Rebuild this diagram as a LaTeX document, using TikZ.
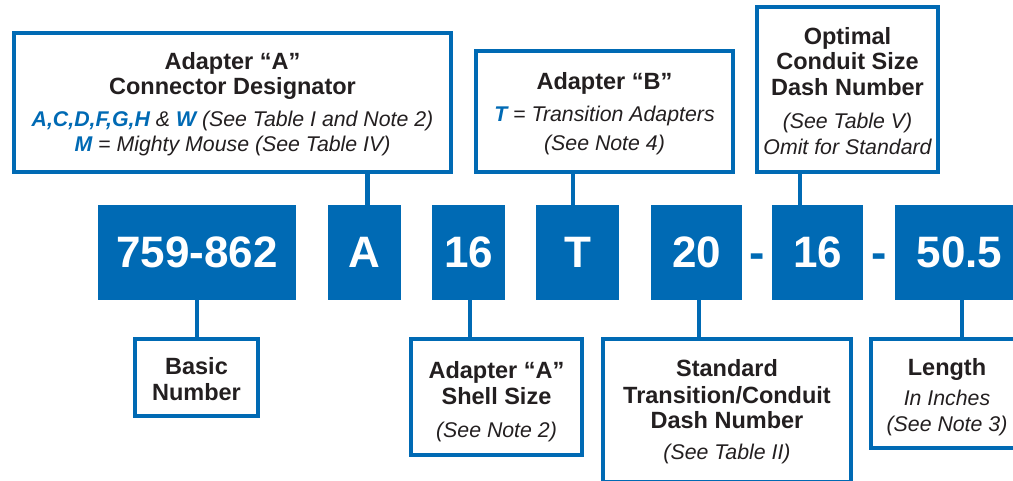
\documentclass[tikz,border=0pt]{standalone}
\usepackage{fontspec}
\setmainfont{Liberation Sans}
\usepackage{tikz}
\definecolor{pnblue}{RGB}{0,106,180}
\definecolor{pntext}{RGB}{35,31,32}
\newcommand{\ntfont}{\fontsize{21.3}{25.5}\selectfont\mdseries\itshape}
\newcommand{\pnkey}[1]{{\color{pnblue}\bfseries #1}}
\newcommand{\lift}[1]{\rule{0pt}{\dimexpr 17pt+#1pt\relax}}
\tikzstyle{code_box} = [fill=pnblue, text=white, inner sep=0pt, minimum height=95pt, font=\fontsize{44}{44}\selectfont\bfseries]
\tikzstyle{info_box} = [draw=pnblue, line width=4pt, fill=white, text=pntext, align=center, inner sep=0pt, font=\fontsize{23.5}{25.5}\selectfont\bfseries]
\tikzstyle{dash_mark} = [text=pnblue, inner sep=0pt, anchor=base, font=\fontsize{46}{46}\selectfont\bfseries]
\tikzstyle{link_line} = [draw=pnblue, line width=4.5pt]

\begin{document}
\begin{tikzpicture}[x=1pt,y=-1pt]
		\useasboundingbox (0,0) rectangle (1013,480);
		\clip (0,0) rectangle (1013,480);
		% part number row
		\node (num) at (197,252.5) [code_box, minimum width=198pt] {759-862};
		\node (desig) at (364.5,252.5) [code_box, minimum width=73pt] {A};
		\node (size) at (468.5,252.5) [code_box, minimum width=73pt] {16};
		\node (adB) at (577.5,252.5) [code_box, minimum width=83pt] {T};
		\node (std) at (696.5,252.5) [code_box, minimum width=91pt] {20};
		\node (dashA) at (757,268.7) [dash_mark] {-};
		\node (opt) at (817.5,252.5) [code_box, minimum width=91pt] {16};
		\node (dashB) at (879,268.7) [dash_mark] {-};
		\node (len) at (959.5,252.5) [code_box, minimum width=129pt] {50.5};
		
		% upper legends
		\node (desigInfo) at (232.5,102.4) [info_box, minimum width=437pt, minimum height=139pt] {\lift{4}Adapter “A”\\ Connector Designator\\[6.5pt] {\ntfont\pnkey{A,C,D,F,G,H} \& \pnkey{W} (See Table I and Note 2)}\\[-0.5pt] {\ntfont\pnkey{M} = Mighty Mouse (See Table IV)}};
		\node (adBInfo) at (604.5,111.5) [info_box, minimum width=257pt, minimum height=121pt] {\lift{4}Adapter “B”\\[6.5pt] {\ntfont\pnkey{T} = Transition Adapters}\\[3.5pt] {\ntfont (See Note 4)}};
		\node (optInfo) at (847.5,89.5) [info_box, minimum width=181pt, minimum height=165pt] {\lift{3}Optimal\\ Conduit Size\\ Dash Number\\[7.5pt] {\ntfont (See Table V)}\\[0.5pt] {\ntfont Omit for Standard}};
		
		% lower legends
		\node (numInfo) at (196.5,377.5) [info_box, minimum width=123pt, minimum height=77pt] {\lift{3}Basic\\ Number};
		\node (sizeInfo) at (496.5,397) [info_box, minimum width=171pt, minimum height=116pt] {\lift{9}Adapter “A”\\ Shell Size\\[7.5pt] {\ntfont (See Note 2)}};
		\node (stdInfo) at (727,410.5) [info_box, minimum width=248pt, minimum height=143pt] {\lift{2}Standard\\[1.5pt] Transition/Conduit\\ Dash Number\\[5.5pt] {\ntfont (See Table II)}};
		\node (lenInfo) at (947,393.5) [info_box, minimum width=152pt, minimum height=109pt] {\lift{8}Length\\[4.5pt] {\ntfont In Inches}\\[0.5pt] {\ntfont (See Note 3)}};
		
		\draw[link_line] ([xshift=3pt]desig.north) -- ([xshift=3pt]desig.north |- desigInfo.south);
		\draw[link_line] ([xshift=-4.5pt]adB.north) -- ([xshift=-4.5pt]adB.north |- adBInfo.south);
		\draw[link_line] ([xshift=-17.5pt]opt.north) -- ([xshift=-17.5pt]opt.north |- optInfo.south);
		\draw[link_line] (num.south) -- (num.south |- numInfo.north);
		\draw[link_line] ([xshift=1.5pt]size.south) -- ([xshift=1.5pt]size.south |- sizeInfo.north);
		\draw[link_line] ([xshift=2.5pt]std.south) -- ([xshift=2.5pt]std.south |- stdInfo.north);
		\draw[link_line] ([xshift=2.5pt]len.south) -- ([xshift=2.5pt]len.south |- lenInfo.north);
		\end{tikzpicture}
\end{document}
